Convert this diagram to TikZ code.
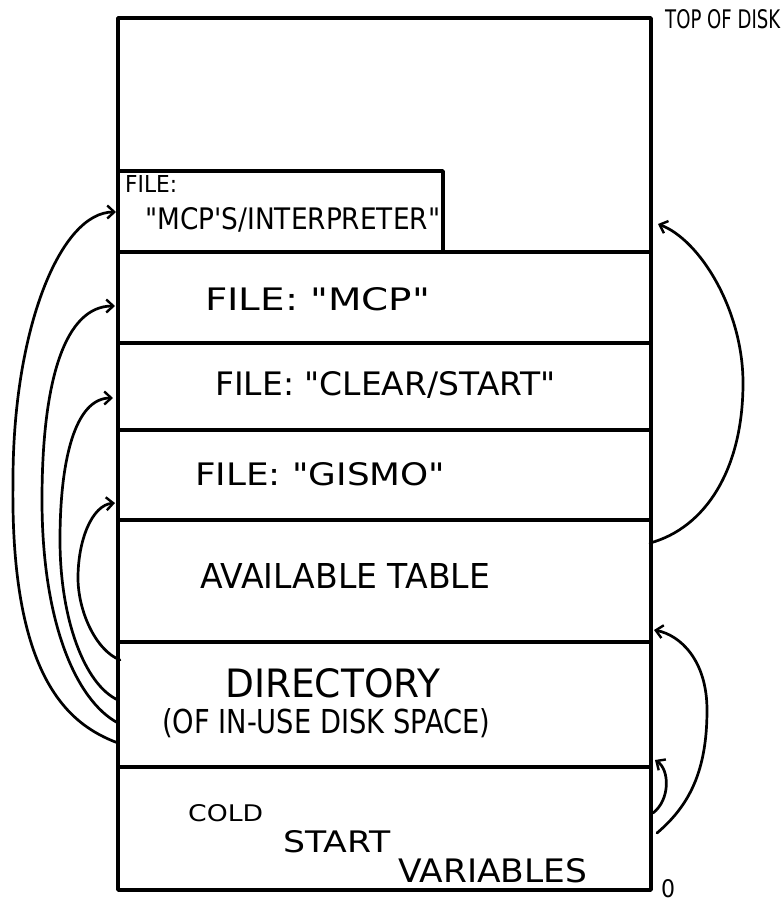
\documentclass[tikz,border=0pt]{standalone}
\usepackage{fontspec}
\setmainfont{DejaVu Sans}[Ligatures=TeXOff]
\usetikzlibrary{arrows.meta}
\newcommand\hwtext[3]{\resizebox{#1pt}{#2pt}{#3}}
\begin{document}
\begin{tikzpicture}[x=1pt,y=-1pt,
  boxline/.style={line width=3.4pt, line cap=round, line join=round},
  link/.style={line width=2.7pt, line cap=round,
     -{Straight Barb[length=7pt,width=13pt,line width=2.4pt]}},
  lbl/.style={inner sep=0pt, anchor=base west}]
\useasboundingbox (0,0) rectangle (782,902);
% memory box
\draw[boxline] (118,18) rectangle (651,890);
\draw[boxline] (118,171) -- (443,171) -- (443,252);
\foreach \yy in {252,343,430,520,642,767}
  \draw[boxline] (118,\yy) -- (651,\yy);
% labels
\node[lbl] (top) at (665,28) {\hwtext{115}{19}{TOP OF DISK}};
\node[lbl] (f1a) at (125,192) {\hwtext{52}{17}{FILE:}};
\node[lbl] (f1b) at (145,229) {\hwtext{295}{22}{"MCP'S/INTERPRETER"}};
\node[lbl] (f2) at (205,310) {\hwtext{225}{23}{FILE: "MCP"}};
\node[lbl] (f3) at (215,395) {\hwtext{340}{24}{FILE: "CLEAR/START"}};
\node[lbl] (f4) at (195,485) {\hwtext{250}{23}{FILE: "GISMO"}};
\node[lbl] (avail) at (200,588) {\hwtext{290}{25}{AVAILABLE TABLE}};
\node[lbl] (dir) at (225,697) {\hwtext{215}{29}{DIRECTORY}};
\node[lbl] (dir2) at (162,733) {\hwtext{328}{25}{(OF IN-USE DISK SPACE)}};
\node[lbl] (cold) at (188,821) {\hwtext{75}{17}{COLD}};
\node[lbl] (start) at (283,852) {\hwtext{107}{22}{START}};
\node[lbl] (vars) at (398,882) {\hwtext{189}{24}{VARIABLES}};
\node[lbl] (zero) at (661,897) {\hwtext{14}{18}{0}};
% arrow end points
\coordinate (dirA) at (118,743);
\coordinate (dirB) at (118,723);
\coordinate (dirC) at (118,700);
\coordinate (dirD) at (120,660);
\coordinate (tInt) at (116,212);
\coordinate (tMcp) at (115,306);
\coordinate (tClr) at (113,398);
\coordinate (tGis) at (115,503);
\coordinate (avS) at (650,543);
\coordinate (tTop) at (658,224);
\coordinate (cvS) at (657,833);
\coordinate (tDir) at (654,630);
\coordinate (cvS2) at (653,813);
\coordinate (tDir2) at (655,760);
% left arrows (directory -> files)
\draw[link] (dirA) .. controls (70,725) and (10,680) .. (13,480)
   .. controls (13,330) and (60,212) .. (tInt);
\draw[link] (dirB) .. controls (75,700) and (42,620) .. (42,500)
   .. controls (42,380) and (65,306) .. (tMcp);
\draw[link] (dirC) .. controls (85,685) and (60,620) .. (60,540)
   .. controls (60,460) and (75,398) .. (tClr);
\draw[link] (dirD) .. controls (95,650) and (78,610) .. (78,578)
   .. controls (78,540) and (92,505) .. (tGis);
% right arrows
\draw[link] (avS) .. controls (705,528) and (743,470) .. (743,383)
   .. controls (743,310) and (700,240) .. (tTop);
\draw[link] (cvS) .. controls (690,805) and (707,770) .. (707,710)
   .. controls (707,660) and (680,635) .. (tDir);
\draw[link] (cvS2) .. controls (670,800) and (670,770) .. (tDir2);
\end{tikzpicture}
\end{document}
